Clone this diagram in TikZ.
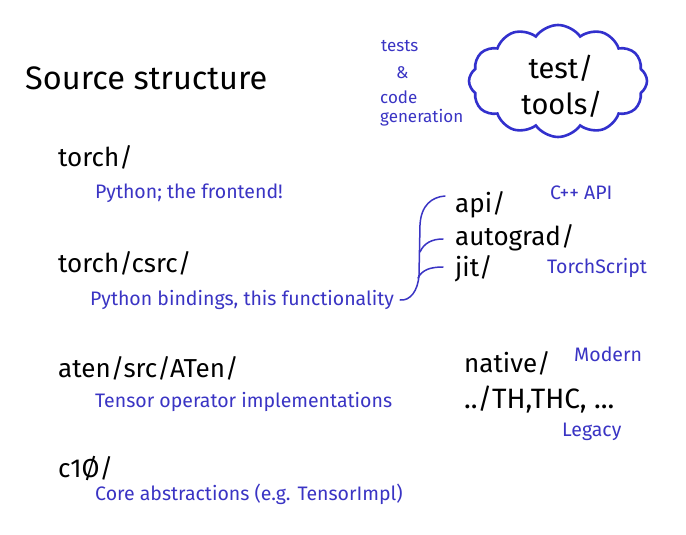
\documentclass[tikz,border=0pt]{standalone}
\usepackage{fontspec}
\setmainfont{Fira Sans}
\usetikzlibrary{shapes.symbols,calc}
\definecolor{hblue}{RGB}{58,52,196}
\definecolor{cblue}{RGB}{50,48,205}
\tikzset{
  title/.style={anchor=base west,inner sep=0pt,font=\fontsize{32.5}{36}\selectfont,text=black},
  dir/.style={anchor=base west,inner sep=0pt,font=\fontsize{26}{28}\selectfont,text=black},
  note/.style={anchor=base west,inner sep=0pt,font=\fontsize{19.5}{22}\selectfont,text=hblue},
  small/.style={anchor=base west,inner sep=0pt,font=\fontsize{17}{19}\selectfont,text=hblue},
  link/.style={draw=hblue,line width=1.5pt,line cap=round}
}
\begin{document}
\begin{tikzpicture}[x=1pt,y=-1pt]
\useasboundingbox[fill=white] (0,0) rectangle (686,535);
% title
\node[title] (title) at (25,90) {Source structure};
% tests & code generation
\node[small] (tests) at (381,52) {tests};
\node[small] (amp) at (396,79) {\&};
\node[small] (code) at (380,103) {code};
\node[small] (gen) at (380,122) {generation};
% cloud
\node[cloud, cloud puffs=12, cloud puff arc=110, aspect=1.6, draw=cblue, line width=2.6pt,
      minimum width=178pt, minimum height=112pt, inner sep=0pt] (cloud) at (558,81) {};
\node[dir,anchor=base,font=\fontsize{29}{31}\selectfont] (test) at (561,79) {test/};
\node[dir,anchor=base,font=\fontsize{29}{31}\selectfont] (tools) at (562,114) {tools/};
% left column
\node[dir] (torch) at (58,166) {torch/};
\node[note] (pyfront) at (95,198) {Python; the frontend!};
\node[dir] (csrc) at (58,272) {torch/csrc/};
\node[note] (func) at (90,305) {Python bindings, this functionality};
\node[dir] (aten) at (58,377) {aten/src/ATen/};
\node[note] (tensorop) at (95,407) {Tensor operator implementations};
\node[dir] (c10) at (58,477) {c1Ø/};
\node[note] (core) at (95,500) {Core abstractions (e.g. TensorImpl)};
% csrc subdirs
\node[dir] (api) at (455,212) {api/};
\node[dir] (autograd) at (455,245) {autograd/};
\node[dir] (jit) at (455,276) {jit/};
\node[note] (cppapi) at (550,199) {C++ API};
\node[note] (tscript) at (547,273) {TorchScript};
% aten subdirs
\node[dir] (native) at (464,372) {native/};
\node[note] (modern) at (574,361) {Modern};
\node[dir,font=\fontsize{28}{30}\selectfont] (th) at (464,408) {../TH,THC, ...};
\node[note] (legacy) at (562,436) {Legacy};
% brace connector
\coordinate (bstart) at ($(func.base east)+(6,-5)$);
\coordinate (ta) at (445,196);
\coordinate (tb) at (443,239);
\coordinate (tc) at (443,267);
\coordinate (ja) at (420,252);
\coordinate (jb) at (418,278);
\draw[link] (bstart) .. controls ++(10,1) and (418,291) .. (419,275)
   -- (420,225) .. controls (421,205) and (432,197) .. (ta);
\draw[link] (ja) .. controls (424,243) and (432,239) .. (tb);
\draw[link] (jb) .. controls (422,270) and (430,267) .. (tc);
\end{tikzpicture}
\end{document}
